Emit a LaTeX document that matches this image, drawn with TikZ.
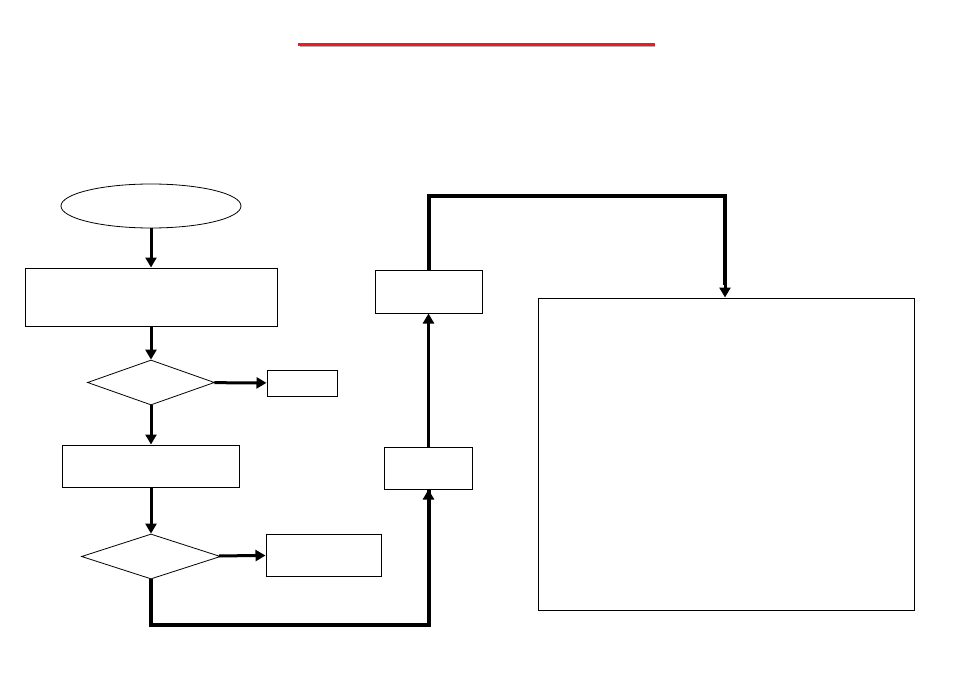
\documentclass[tikz,border=0pt]{standalone}
\usepackage{tikz}
\usetikzlibrary{arrows.meta}
\usetikzlibrary{positioning}
\usetikzlibrary{shapes.geometric}
\definecolor{titlered}{RGB}{237,28,36}
\tikzset{box/.style = {draw, rectangle, line width=1pt, inner sep=0pt}}
\tikzset{choice/.style = {draw, diamond, line width=0.8pt, inner sep=0pt}}
\tikzset{flow/.style = {line width=3pt, -{Triangle[length=10pt,width=11pt]}}}
\tikzset{loop/.style = {line width=4pt, line join=miter}}

\begin{document}
\begin{tikzpicture}[x=1pt,y=-1pt]
	\useasboundingbox (0,0) rectangle (954,674);
	\draw [gray!60, line width=1pt] (300,46.5) -- (655,46.5);
	\draw [titlered, line width=2.2pt] (298,44.5) -- (655,44.5);
	\node [draw, ellipse, line width=0.8pt, minimum width=180pt, minimum height=44pt] (start) at (151,206) {};
	\node [box, minimum width=252pt, minimum height=58pt] (read) at (151,297) {};
	\node [choice, minimum width=127pt, minimum height=45pt] (test1) at (151,382.5) {};
	\node [box, minimum width=70pt, minimum height=26pt] (stop1) at (302,383) {};
	\node [box, minimum width=177pt, minimum height=42pt] (work) at (151,466) {};
	\node [choice, minimum width=139pt, minimum height=45pt] (test2) at (151,556.5) {};
	\node [box, minimum width=115pt, minimum height=42pt] (stop2) at (323.5,555) {};
	\node [box, minimum width=88pt, minimum height=42pt] (check) at (428.5,468) {};
	\node [box, minimum width=107pt, minimum height=43pt] (send) at (428.5,291.5) {};
	\node [box, minimum width=376pt, minimum height=312pt] (result) at (726,454) {};
	\coordinate (low) at (test2.south |- 0,625);
	\coordinate (high) at (send.north |- 0,196);
	\coordinate (drop) at (725,285);
	\draw [flow] (start) -- (read);
	\draw [flow] (read) -- (test1);
	\draw [flow] (test1) -- (stop1);
	\draw [flow] (test1) -- (work);
	\draw [flow] (work) -- (test2);
	\draw [flow] (test2) -- (stop2);
	\draw [loop] (test2.south) -- (low) -| (check.south);
	\draw [flow] (check.south |- low) -- (check.south);
	\draw [flow] (check) -- (send);
	\draw [loop] (send.north) -- (high) -| (drop);
	\draw [flow] (drop) -- (result.north -| drop);
\end{tikzpicture}
\end{document}
